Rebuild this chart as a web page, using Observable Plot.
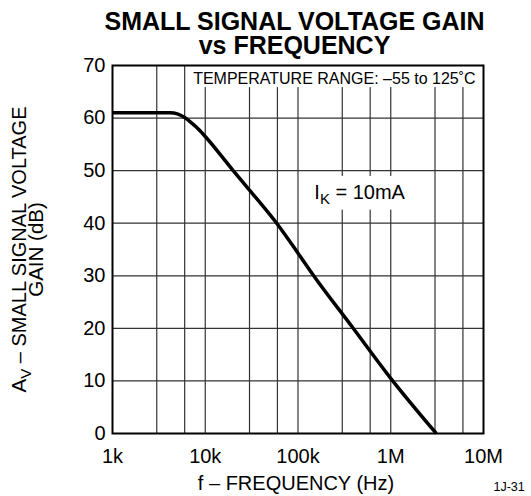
<!DOCTYPE html>
<html><head><meta charset="utf-8">
<script src="https://cdn.jsdelivr.net/npm/d3@7"></script>
<script src="https://cdn.jsdelivr.net/npm/@observablehq/plot@0.6"></script>
<style>
html,body{margin:0;padding:0;background:#fff;}
#chart svg{display:block;}
</style></head><body><div id="chart"></div>
<script>
// ---- data ----
const frequencyHz = [1000, 2000, 4200, 5000, 6000, 7000, 8000, 10000, 20000, 30000, 60000, 100000, 145000, 383000, 1000000, 3100000];
const gainDb      = [61,   61,   61,   60.8, 60.1, 59.2, 58.3, 56.5,  50,    46.3,  39.8,  34.3,   30.2,   20.3,   10.5,    0];
const xTickValues = [1e3, 1e4, 1e5, 1e6, 1e7];
const xTickLabels = ["1k", "10k", "100k", "1M", "10M"];
const yTickValues = [0, 10, 20, 30, 40, 50, 60, 70];
const xGridValues = [3e3, 6e3, 1e4, 3e4, 6e4, 1e5, 3e5, 6e5, 1e6, 3e6, 6e6];
const yGridValues = [10, 20, 30, 40, 50, 60];
const titleLines = ["SMALL SIGNAL VOLTAGE GAIN", "vs FREQUENCY"];
const xTitle = "f – FREQUENCY (Hz)";
const yTitleLines = ["A_V – SMALL SIGNAL VOLTAGE", "GAIN (dB)"];
const tempNote = "TEMPERATURE RANGE: –55 to 125˚C";
const currentNote = "I_K = 10mA";
const figureId = "1J-31";

const curveData = frequencyHz.map((f, i) => ({f, g: gainDb[i]}));
const labelMap = new Map(xTickValues.map((v, i) => [v, xTickLabels[i]]));
const font = "'Liberation Sans', Arial, Helvetica, sans-serif";

// annotation anchors & white backgrounds (in data units: Hz, dB)
const noteBoxes = [
  {x1: 6300, x2: 1e7, y1: 65.8, y2: 70},
  {x1: 106000, x2: 2.67e6, y1: 42.5, y2: 48.9}
];
const tempNoteAt = [{f: 246600, g: 67.5, t: tempNote}];
const currentNoteAt = [{f: 150000, g: 45.9, t: currentNote}];

const chart = Plot.plot({
  width: 531, height: 496,
  marginLeft: 112, marginRight: 48, marginTop: 65, marginBottom: 63,
  style: {fontFamily: font, background: "#fff", color: "#000", overflow: "visible"},
  x: {type: "log", domain: [1e3, 1e7]},
  y: {domain: [0, 70]},
  marks: [
    Plot.ruleX(xGridValues, {stroke: "#333", strokeWidth: 1.2}),
    Plot.ruleY(yGridValues, {stroke: "#333", strokeWidth: 1.2}),
    Plot.rect(noteBoxes, {x1: "x1", x2: "x2", y1: "y1", y2: "y2", fill: "white"}),
    Plot.line(curveData, {x: "f", y: "g", stroke: "black", strokeWidth: 3.5, curve: "monotone-x", strokeLinecap: "butt"}),
    Plot.frame({stroke: "black", strokeWidth: 2}),
    Plot.axisX(xTickValues, {tickSize: 0, tickPadding: 15, fontSize: 20, tickFormat: d => labelMap.get(d), label: null}),
    Plot.axisY(yTickValues, {tickSize: 0, tickPadding: 7, fontSize: 20, label: null}),
    Plot.text(tempNoteAt, {x: "f", y: "g", text: "t", fontSize: 16, lineAnchor: "middle", fill: "black"}),
    Plot.text(currentNoteAt, {x: "f", y: "g", text: "t", fontSize: 20, textAnchor: "start", lineAnchor: "middle", fill: "black"}),
    Plot.text([titleLines[0]], {frameAnchor: "top", lineAnchor: "middle", dx: -3.5, dy: -43.7, fontSize: 25, fontWeight: "bold", fill: "black"}),
    Plot.text([titleLines[1]], {frameAnchor: "top", lineAnchor: "middle", dx: -3.5, dy: -19.7, fontSize: 25, fontWeight: "bold", fill: "black"}),
    Plot.text([xTitle], {frameAnchor: "bottom", lineAnchor: "middle", dx: -2, dy: 50.1, fontSize: 20, fill: "black"}),
    Plot.text([figureId], {frameAnchor: "bottom-right", lineAnchor: "middle", textAnchor: "start", dx: 10, dy: 53.7, fontSize: 12.5, fill: "black"}),
    Plot.text([yTitleLines[0]], {frameAnchor: "left", textAnchor: "middle", lineAnchor: "middle", rotate: -90, dx: -93.1, fontSize: 20.5, fill: "black"}),
    Plot.text([yTitleLines[1]], {frameAnchor: "left", textAnchor: "middle", lineAnchor: "middle", rotate: -90, dx: -76.1, fontSize: 20.5, fill: "black"})
  ]
});

// subscripts (A_V, I_K)
d3.select(chart).selectAll("text").each(function () {
  const t = this.textContent;
  if (!t || !t.includes("_")) return;
  const idx = t.indexOf("_");
  const base = t.slice(0, idx), sub = t[idx + 1], rest = t.slice(idx + 2);
  const fs = parseFloat(getComputedStyle(this).fontSize) || parseFloat(this.getAttribute("font-size")) || 20;
  const el = d3.select(this);
  el.text(null);
  el.append("tspan").text(base);
  el.append("tspan").attr("font-size", fs * 0.75).attr("dy", fs * 0.25).text(sub);
  el.append("tspan").attr("font-size", fs).attr("dy", -fs * 0.25).text(rest);
});

document.getElementById("chart").appendChild(chart);
</script></body></html>
